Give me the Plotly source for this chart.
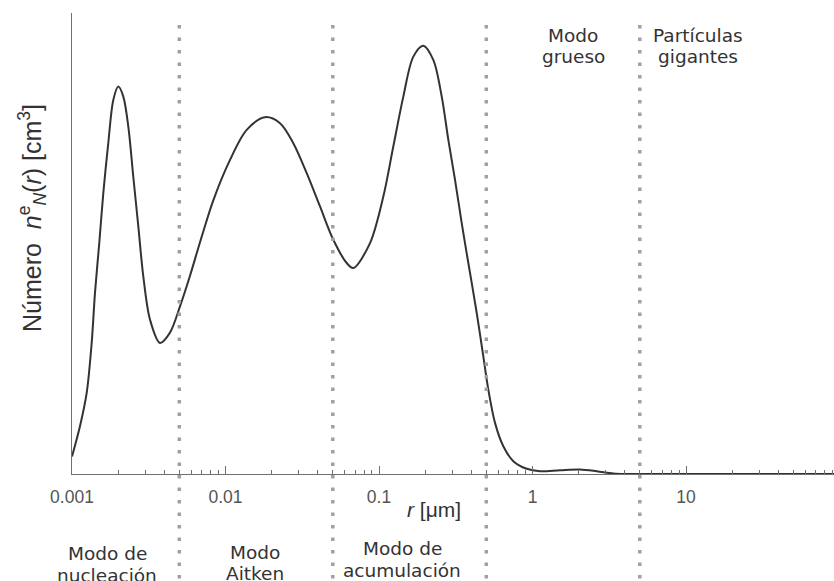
import plotly.graph_objects as go

# ---- data ----
radius_um = [0.001, 0.001127, 0.001247, 0.001344, 0.001412, 0.001506, 0.0016, 0.001724,
             0.001858, 0.002003, 0.002159, 0.002327, 0.002507, 0.002704, 0.002914,
             0.003222, 0.003744, 0.004348, 0.005052, 0.005871, 0.006823, 0.008327,
             0.0107, 0.01374, 0.01808, 0.02265, 0.02765, 0.03381, 0.04127, 0.05039,
             0.0616, 0.06802, 0.08738, 0.1067, 0.1239, 0.144, 0.1673, 0.1944, 0.2258,
             0.2562, 0.2829, 0.3127, 0.3458, 0.3818, 0.4331, 0.4781, 0.5153, 0.5698,
             0.6452, 0.7498, 0.9167, 1.119, 1.511, 2.039, 2.619, 3.361, 4.109, 10.0, 92.0]
number_density = [17.5, 47.8, 81.5, 131.5, 181.5, 231.5, 281.5, 331.5,
                  374.5, 387.8, 377.8, 347.8, 297.8, 247.8, 197.8,
                  154.5, 131.2, 141.5, 167.8, 198.5, 232.0, 274.0,
                  314.5, 344.5, 357.2, 351.2, 331.2, 301.2, 267.8, 234.5,
                  211.2, 206.2, 231.2, 277.8, 327.8, 377.8, 417.8, 428.8, 414.5,
                  377.8, 334.5, 294.5, 251.2, 211.2, 161.2, 117.8, 84.5, 51.2,
                  27.8, 12.8, 5.2, 2.8, 3.8, 4.5, 2.8, 0.5, 0.0, 0.0, 0.0]

mode_boundaries = [0.005, 0.05, 0.5, 5.0]
major_ticks = [0.001, 0.01, 0.1, 1, 10]
major_labels = ["0.001", "0.01", "0.1", "1", "10"]
minor_ticks = [m * d for d in [0.001, 0.01, 0.1, 1, 10] for m in range(2, 10)]

y_top = 461.5

# ---- layout geometry helpers (pixels -> paper) ----
W, H = 834, 581
L, R, T, B = 72, 0, 13, 107
PW, PH = W - L - R, H - T - B


def px(xp):
    return (xp - L) / PW


def py(yp):
    return (H - B - yp) / PH


fig = go.Figure()
fig.add_trace(go.Scatter(
    x=radius_um, y=number_density, mode="lines",
    line=dict(color="#333333", width=2, shape="spline", smoothing=0.9),
    hoverinfo="skip", showlegend=False, cliponaxis=False,
))

shapes = []
for b in mode_boundaries:
    shapes.append(dict(type="line", xref="x", yref="paper", x0=b, x1=b,
                       y0=py(H + 10), y1=py(17),
                       line=dict(color="#a0a0a0", width=3.5, dash="3.5px,9px"),
                       layer="above"))

cat_font = dict(family="DejaVu Sans", size=18.5, color="#333333")
labels = [
    ("Modo de", 107, 553), ("nucleación", 107, 575),
    ("Modo", 255, 552), ("Aitken", 255, 573),
    ("Modo de", 402, 548), ("acumulación", 402, 570),
    ("Modo", 573, 35), ("grueso", 573, 57),
    ("Partículas", 698, 35), ("gigantes", 698, 57),
]
annotations = []
for txt, xp, yp in labels:
    annotations.append(dict(text=txt, x=px(xp), y=py(yp), xref="paper", yref="paper",
                            xanchor="center", yanchor="middle", showarrow=False,
                            font=cat_font))

annotations.append(dict(text="<i>r</i> [μm]", x=px(434), y=py(509), xref="paper", yref="paper",
                        xanchor="center", yanchor="middle", showarrow=False,
                        font=dict(family="Liberation Sans", size=21, color="#333333")))

annotations.append(dict(
    text="Número  <i>n</i><sup>e</sup><sub><i>N</i></sub>(<i>r</i>) [cm<sup>3</sup>]",
    x=px(32), y=py(218), xref="paper", yref="paper", textangle=-90,
    xanchor="center", yanchor="middle", showarrow=False,
    font=dict(family="Liberation Sans", size=25, color="#333333")))

fig.update_layout(
    width=W, height=H,
    margin=dict(l=L, r=R, t=T, b=B, pad=0),
    paper_bgcolor="white", plot_bgcolor="white",
    shapes=shapes, annotations=annotations,
    xaxis=dict(type="log", range=[-3, 1.964], showgrid=False, zeroline=False,
               showline=True, linecolor="#707070", linewidth=1.2,
               tickmode="array", tickvals=major_ticks, ticktext=major_labels,
               ticks="inside", ticklen=8, tickcolor="#707070", tickwidth=1,
               ticklabelstandoff=7,
               tickfont=dict(family="Liberation Sans", size=17.5, color="#555555"),
               minor=dict(tickmode="array", tickvals=minor_ticks, ticks="inside",
                          ticklen=4, tickcolor="#707070", tickwidth=1, showgrid=False)),
    yaxis=dict(range=[0, y_top], showgrid=False, zeroline=False,
               showline=True, linecolor="#707070", linewidth=1.2,
               tickmode="array", tickvals=[y_top], ticks="inside", ticklen=8,
               tickcolor="#707070", showticklabels=False),
)

fig.write_html("out.html")
